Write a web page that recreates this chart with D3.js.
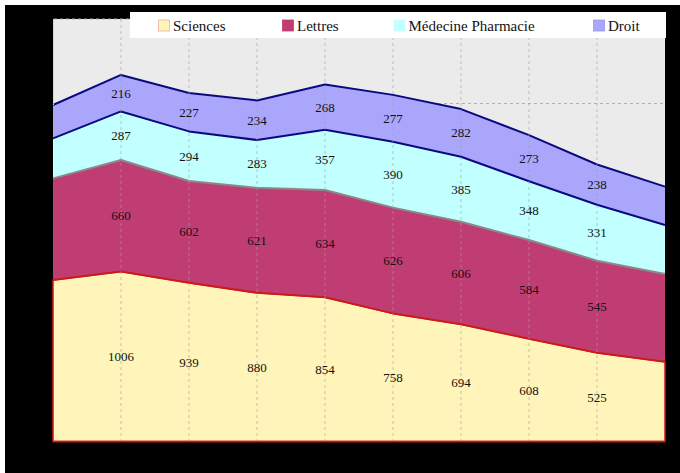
<!DOCTYPE html>
<html><head><meta charset="utf-8">
<script src="https://cdn.jsdelivr.net/npm/d3@7"></script>
<style>html,body{margin:0;padding:0;background:#fff;}svg{display:block;}</style>
</head><body>
<svg id="chart" width="680" height="473"></svg>
<script>
const points = [0,1,2,3,4,5,6,7,8,9];
const seriesNames = ["Sciences","Lettres","Médecine Pharmacie","Droit"];
const sciences = [956, 1006, 939, 880, 854, 758, 694, 608, 525, 472];
const lettres  = [601, 660, 602, 621, 634, 626, 606, 584, 545, 519];
const medecine = [237, 287, 294, 283, 357, 390, 385, 348, 331, 290];
const droit    = [197, 216, 227, 234, 268, 277, 282, 273, 238, 227];
const labeled  = [1,2,3,4,5,6,7,8];
const yTicks   = [0,500,1000,1500,2000,2500];

(function(){
const fills   = ["#fff5bb","#c03d74","#c2ffff","#aaa6fb"];
const strokes = ["#cc1a1a","#8a8a8a","#0a0a80","#0a0a80"];
const swatchStroke = ["#f0b0a0","#c03d74","#c2ffff","#9a96ea"];
const serif = "Liberation Serif, Times New Roman, serif";

const svg = d3.select("#chart");
const W = 680, H = 473;
const pL = 53, pR = 665, pT = 19, pB = 441.5;

svg.append("rect").attr("x",0).attr("y",0).attr("width",W).attr("height",H).attr("fill","#fff");
svg.append("rect").attr("x",5).attr("y",5).attr("width",W-5).attr("height",H-5).attr("fill","#000");

const x = d3.scaleLinear().domain([0, points.length-1]).range([pL, pR]);
const y = d3.scaleLinear().domain([0, 2500]).range([pB, pT]);

svg.append("rect").attr("x",pL).attr("y",pT).attr("width",pR-pL).attr("height",pB-pT)
  .attr("fill","#ebebeb");

svg.append("g").selectAll("line").data(yTicks.filter(d=>d>0)).join("line")
  .attr("x1",pL+1).attr("x2",pR)
  .attr("y1",d=>y(d)).attr("y2",d=>y(d))
  .attr("stroke","#b0b0b0").attr("stroke-width",1).attr("stroke-dasharray","3,3");

const rows = points.map((p,i)=>({i:p, s0:sciences[i], s1:lettres[i], s2:medecine[i], s3:droit[i]}));
const layers = d3.stack().keys(["s0","s1","s2","s3"])(rows);

const area = d3.area().x(d=>x(d.data.i)).y0(d=>y(d[0])).y1(d=>y(d[1]));
const topLine = d3.line().x(d=>x(d.data.i)).y(d=>y(d[1]));

const g = svg.append("g");
layers.forEach((L,k)=>{
  g.append("path").attr("d",area(L)).attr("fill",fills[k]).attr("stroke",k===0?strokes[0]:"none").attr("stroke-width",k===0?1.5:0);
});
layers.forEach((L,k)=>{
  g.append("path").attr("d",topLine(L)).attr("fill","none").attr("stroke",strokes[k]).attr("stroke-width",2).attr("stroke-linejoin","round");
});

svg.append("g").selectAll("line").data(labeled).join("line")
  .attr("x1",d=>x(d)).attr("x2",d=>x(d)).attr("y1",pT).attr("y2",pB)
  .attr("stroke","#a0a0a0").attr("stroke-width",1).attr("stroke-dasharray","3,3").attr("opacity",0.6);

// axes, black on black as in the reference
const yAxis = d3.axisLeft(y).tickValues(yTicks).tickSize(0);
svg.append("g").attr("transform",`translate(${pL-2},0)`).attr("color","#000").call(yAxis)
  .call(a=>a.select(".domain").remove());
const xAxis = d3.axisBottom(x).tickValues(labeled).tickSize(0).tickFormat(()=>"");
svg.append("g").attr("transform",`translate(0,${pB+2})`).attr("color","#000").call(xAxis)
  .call(a=>a.select(".domain").remove());

svg.append("line").attr("x1",pL).attr("x2",pR).attr("y1",pB).attr("y2",pB).attr("stroke",strokes[0]).attr("stroke-width",1.5);
svg.append("line").attr("x1",pL+0.5).attr("x2",pL+0.5).attr("y1",pT).attr("y2",y(1991)).attr("stroke","#d6d6d6").attr("stroke-width",1);

layers.forEach((L,k)=>{
  svg.append("g").selectAll("text").data(L.filter(d=>labeled.includes(d.data.i))).join("text")
    .attr("x",d=>x(d.data.i)).attr("y",d=>y((d[0]+d[1])/2))
    .attr("text-anchor","middle").attr("dominant-baseline","central")
    .attr("font-family",serif).attr("font-size",13)
    .attr("fill","#111")
    .text(d=>d[1]-d[0]);
});

const legend = svg.append("g");
legend.append("rect").attr("x",130).attr("y",12).attr("width",536).attr("height",26).attr("fill","#fff");
const legX = [158.5, 282.5, 394, 593.5];
seriesNames.forEach((n,k)=>{
  legend.append("rect").attr("x",legX[k]).attr("y",20).attr("width",11).attr("height",11)
    .attr("fill",fills[k]).attr("stroke",swatchStroke[k]).attr("stroke-width",0.8);
  legend.append("text").attr("x",legX[k]+14.5).attr("y",25.5).attr("dominant-baseline","central")
    .attr("font-family",serif).attr("font-size",15)
    .attr("fill","#111").text(n);
});
})();
</script>
</body></html>
